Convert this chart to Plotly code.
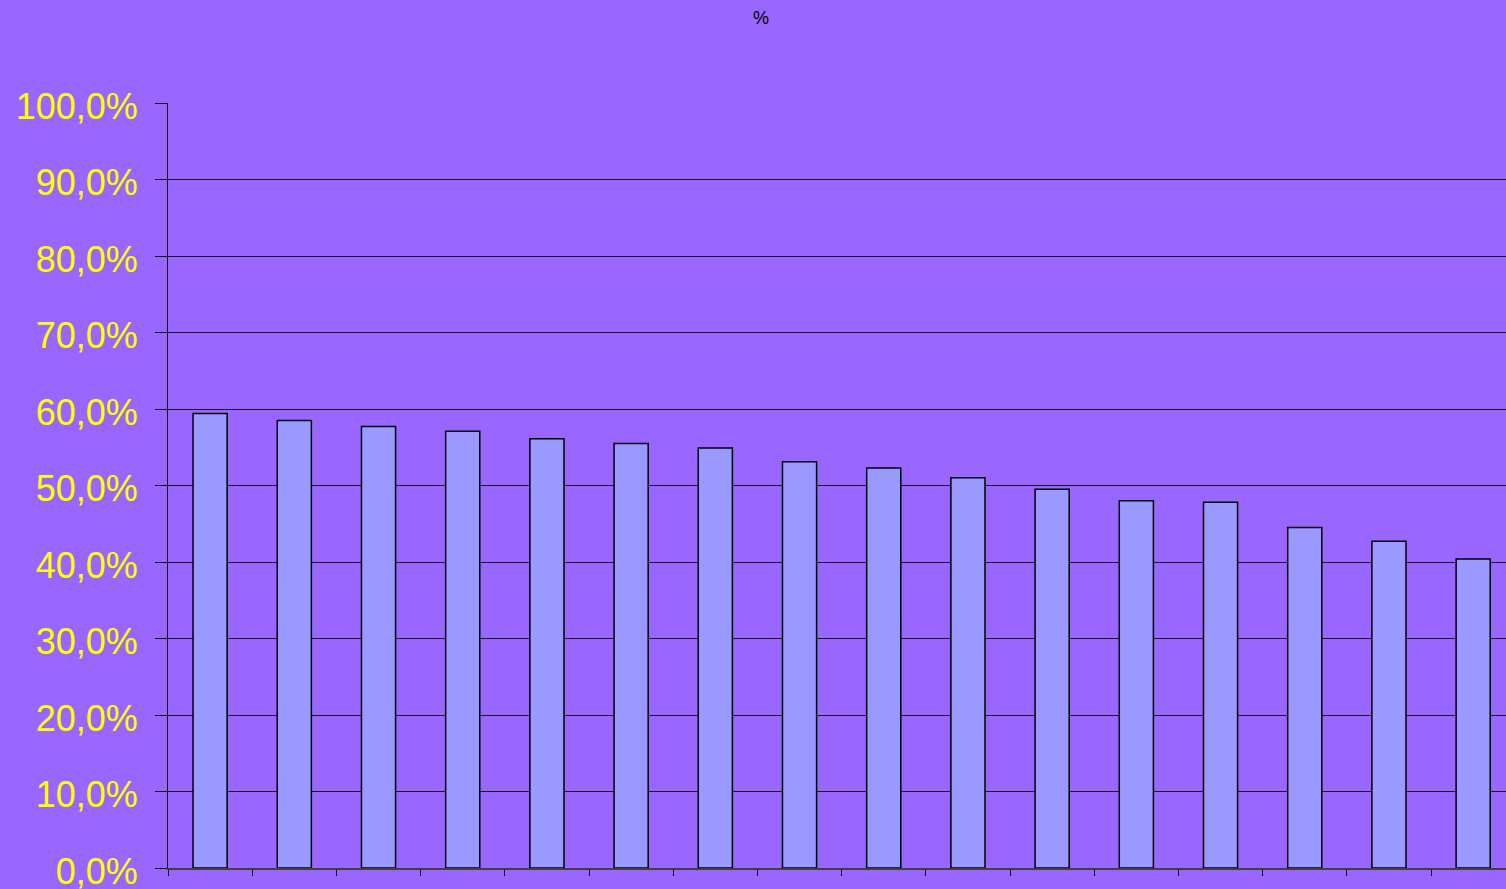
import plotly.graph_objects as go

# Share per category, in percent
categories = [str(i) for i in range(1, 17)]
shares = [59.4, 58.5, 57.7, 57.1, 56.1, 55.5, 54.9, 53.1,
          52.3, 51.0, 49.5, 48.0, 47.8, 44.5, 42.7, 40.4]
y_ticks = [i / 10 for i in range(0, 11)]

BG = "#9966FF"
BAR = "#9999FF"

fig = go.Figure(
    go.Bar(
        x=categories,
        y=[v / 100 for v in shares],
        width=0.405,
        marker=dict(color=BAR, line=dict(color="#000000", width=1.5)),
        hoverinfo="y",
    )
)

fig.update_layout(
    width=1506,
    height=889,
    paper_bgcolor=BG,
    plot_bgcolor=BG,
    separators=",.",
    margin=dict(l=168, r=0, t=103, b=21, autoexpand=False),
    showlegend=False,
    title=dict(
        text="%",
        x=761 / 1506,
        xanchor="center",
        y=1 - 18 / 889,
        yanchor="middle",
        font=dict(family="Liberation Sans, Arial, sans-serif", size=18, color="#000000"),
    ),
)

fig.update_xaxes(
    type="category",
    range=[-0.5, 15.39],
    showticklabels=False,
    showgrid=False,
    showline=True,
    linecolor="#404040",
    linewidth=2,
    ticks="outside",
    tickson="boundaries",
    ticklen=6,
    tickcolor="#000000",
    tickwidth=1,
    zeroline=False,
    automargin=False,
)

fig.update_yaxes(
    range=[0, 1],
    tickvals=y_ticks,
    tickformat=".1%",
    tickfont=dict(family="Liberation Sans, Arial, sans-serif", size=36, color="#FFFF00"),
    ticks="outside",
    ticklen=12,
    tickcolor="#000000",
    tickwidth=1,
    ticklabelstandoff=10,
    ticklabelshift=3,
    ticklabeloverflow="allow",
    showgrid=True,
    gridcolor="#1a1a1a",
    gridwidth=1,
    showline=True,
    linecolor="#000000",
    linewidth=1,
    zeroline=False,
    automargin=False,
)

fig.write_html("out.html")
